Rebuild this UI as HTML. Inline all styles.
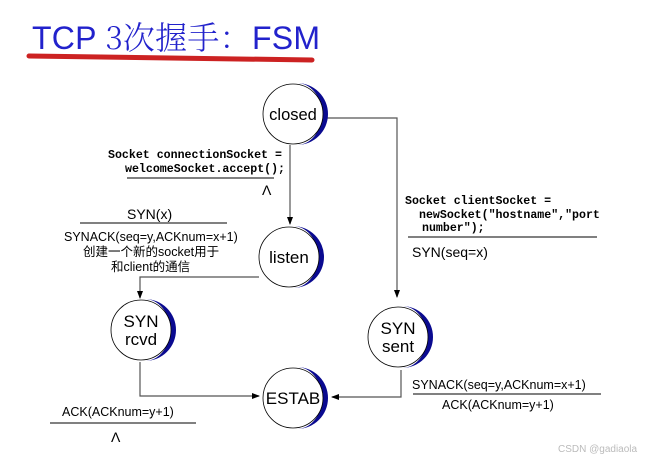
<!DOCTYPE html>
<html><head><meta charset="utf-8"><style>
html,body{margin:0;padding:0;background:#fff;width:648px;height:458px;overflow:hidden}
svg{display:block}
.s{font-family:"Liberation Sans","Noto Sans CJK SC",sans-serif;fill:#000}
.m{font-family:"Liberation Mono",monospace;font-weight:bold;font-size:11.6px;fill:#000}
</style></head><body>
<svg width="648" height="458" viewBox="0 0 648 458" xmlns="http://www.w3.org/2000/svg">
<defs>
<marker id="a" markerWidth="8" markerHeight="8" refX="7" refY="4" orient="auto" markerUnits="userSpaceOnUse"><path d="M0,1 L8,4 L0,7 z" fill="#000"/></marker>
</defs>
<text x="32" y="49" font-family="'Liberation Sans','Noto Sans CJK SC',sans-serif" font-size="32" fill="#2222cc" textLength="288" lengthAdjust="spacing">TCP <tspan font-family="'Noto Serif CJK SC',serif" font-weight="300">3次握手：</tspan>FSM</text>
<path d="M29,56 Q180,58 312,60" stroke="#cc2222" stroke-width="5" fill="none" stroke-linecap="round"/>
<g stroke="#555" stroke-width="1.2" fill="none">
<polyline points="327,118 397,118 397,297" marker-end="url(#a)"/>
<line x1="290" y1="145" x2="290" y2="224" marker-end="url(#a)"/>
<polyline points="259,277 140,277 140,298" marker-end="url(#a)"/>
<polyline points="140,362 140,396 259,396" marker-end="url(#a)"/>
<polyline points="401,370 401,397 332,397" marker-end="url(#a)"/>
</g>
<g>
<g transform="translate(293,114)"><path d="M0,-31 A31,31 0 0 1 0,31 A25,31 0 0 0 0,-31z" fill="#0a0a90" transform="translate(4,0)"/><circle r="30" fill="#fff" stroke="#000" stroke-width="0.8"/><text class="s" font-size="16.5" text-anchor="middle" y="6">closed</text></g>
<g transform="translate(289,257)"><path d="M0,-31 A31,31 0 0 1 0,31 A25,31 0 0 0 0,-31z" fill="#0a0a90" transform="translate(4,0)"/><circle r="30" fill="#fff" stroke="#000" stroke-width="0.8"/><text class="s" font-size="17" text-anchor="middle" y="6">listen</text></g>
<g transform="translate(141,330)"><path d="M0,-31 A31,31 0 0 1 0,31 A25,31 0 0 0 0,-31z" fill="#0a0a90" transform="translate(4,0)"/><circle r="30" fill="#fff" stroke="#000" stroke-width="0.8"/><text class="s" font-size="17" text-anchor="middle" y="-3">SYN</text><text class="s" font-size="17" text-anchor="middle" y="15">rcvd</text></g>
<g transform="translate(398,337)"><path d="M0,-31 A31,31 0 0 1 0,31 A25,31 0 0 0 0,-31z" fill="#0a0a90" transform="translate(4,0)"/><circle r="30" fill="#fff" stroke="#000" stroke-width="0.8"/><text class="s" font-size="17" text-anchor="middle" y="-3">SYN</text><text class="s" font-size="17" text-anchor="middle" y="15">sent</text></g>
<g transform="translate(293,398)"><path d="M0,-31 A31,31 0 0 1 0,31 A25,31 0 0 0 0,-31z" fill="#0a0a90" transform="translate(4,0)"/><circle r="30" fill="#fff" stroke="#000" stroke-width="0.8"/><text class="s" font-size="17" text-anchor="middle" y="6">ESTAB</text></g>
</g>
<text class="m" x="108" y="158">Socket connectionSocket =</text>
<text class="m" x="125" y="172">welcomeSocket.accept();</text>
<line x1="127" y1="178" x2="274" y2="178" stroke="#000"/>
<text class="s" font-size="14" x="262" y="195">Λ</text>
<text class="s" font-size="14" x="127" y="219">SYN(x)</text>
<line x1="80" y1="223" x2="227" y2="223" stroke="#000"/>
<text class="s" font-size="12.5" x="64" y="241">SYNACK(seq=y,ACKnum=x+1)</text>
<text class="s" font-size="12.5" x="83" y="256">创建一个新的socket用于</text>
<text class="s" font-size="12.5" x="111" y="271">和client的通信</text>
<text class="m" x="405" y="204">Socket clientSocket =</text>
<text class="m" x="419" y="218">newSocket("hostname","port</text>
<text class="m" x="422" y="231">number");</text>
<line x1="408" y1="237" x2="597" y2="237" stroke="#000"/>
<text class="s" font-size="14" x="412" y="257">SYN(seq=x)</text>
<text class="s" font-size="12.5" x="412" y="389">SYNACK(seq=y,ACKnum=x+1)</text>
<line x1="413" y1="394" x2="601" y2="394" stroke="#000"/>
<text class="s" font-size="12.5" x="442" y="409">ACK(ACKnum=y+1)</text>
<text class="s" font-size="12.5" x="62" y="416">ACK(ACKnum=y+1)</text>
<line x1="50" y1="423" x2="196" y2="423" stroke="#000"/>
<text class="s" font-size="14" x="111" y="442">Λ</text>
<text class="s" font-size="10" x="558" y="452" style="fill:#bbb">CSDN @gadiaola</text>
</svg>
</body></html>
